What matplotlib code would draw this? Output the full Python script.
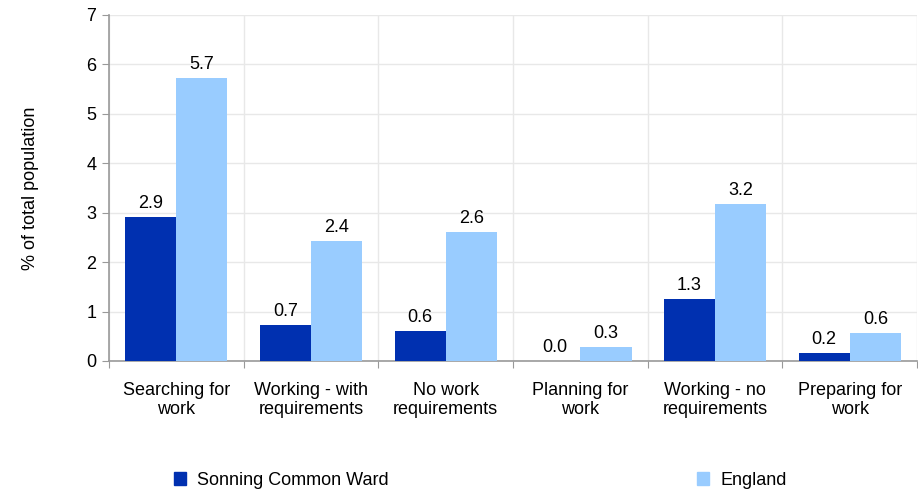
import matplotlib.pyplot as plt
from matplotlib.patches import Patch

plt.rcParams['font.family'] = ['Liberation Sans', 'DejaVu Sans']

# Datos
categorias = ['Searching for\nwork', 'Working - with\nrequirements', 'No work\nrequirements',
              'Planning for\nwork', 'Working - no\nrequirements', 'Preparing for\nwork']
sonning = [2.91, 0.73, 0.61, 0.0, 1.26, 0.16]
england = [5.73, 2.43, 2.61, 0.28, 3.18, 0.56]
series = ['Sonning Common Ward', 'England']
colores = ['#0030B0', '#99CCFF']

fs = 13

fig = plt.figure(figsize=(9.18, 4.91), dpi=100)
ax = fig.add_axes([0.1187, 0.2648, 0.8803, 0.7047])

n = len(categorias)
centros = [i + 0.5 for i in range(n)]
w = 0.38
b1 = ax.bar([c - w / 2 for c in centros], sonning, width=w, color=colores[0], zorder=3)
b2 = ax.bar([c + w / 2 for c in centros], england, width=w, color=colores[1], zorder=3)

for barras, vals in [(b1, sonning), (b2, england)]:
    for b, v in zip(barras, vals):
        ax.text(b.get_x() + b.get_width() / 2, v + 0.1, f'{v:.1f}',
                ha='center', va='bottom', fontsize=fs, color='black')

ax.set_xlim(0, n)
ax.set_ylim(0, 7)
ax.set_yticks(range(8))
ax.set_xticks(range(n + 1))
ax.set_xticklabels([])
ax.set_xticks(centros, minor=True)
ax.set_xticklabels(categorias, minor=True, fontsize=fs, linespacing=1.15)
ax.tick_params(axis='x', which='minor', length=0, pad=15)
ax.tick_params(axis='x', which='major', length=5, color='#999999', direction='out')
ax.tick_params(axis='y', length=5, color='#999999', labelsize=fs, pad=4)
ax.grid(True, which='major', color='#E8E8E8', linewidth=1, zorder=0)

for s in ['top', 'right']:
    ax.spines[s].set_visible(False)
for s in ['left', 'bottom']:
    ax.spines[s].set_color('#999999')
    ax.spines[s].set_linewidth(1.2)

ax.set_ylabel('% of total population', fontsize=fs, labelpad=34)

fig.legend(handles=[Patch(color=colores[0])], labels=[series[0]], loc='center left',
           bbox_to_anchor=(0.189, 0.022), frameon=False, fontsize=fs,
           handlelength=0.7, handleheight=0.7, handletextpad=0.6,
           borderpad=0, borderaxespad=0)
fig.legend(handles=[Patch(color=colores[1])], labels=[series[1]], loc='center left',
           bbox_to_anchor=(0.759, 0.022), frameon=False, fontsize=fs,
           handlelength=0.7, handleheight=0.7, handletextpad=0.6,
           borderpad=0, borderaxespad=0)

fig.savefig('out.png', dpi=100)
